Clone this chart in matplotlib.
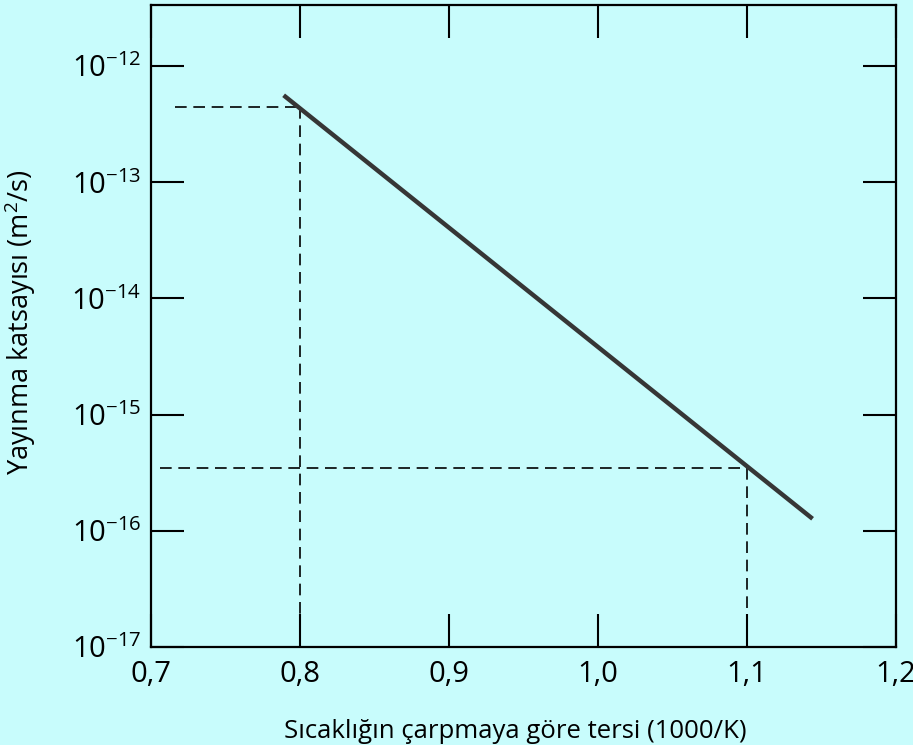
"""
Diffusion coefficient vs. inverse temperature (Arrhenius plot), textbook scan style.
"""
import matplotlib
matplotlib.use("Agg")
import matplotlib.pyplot as plt
from matplotlib.ticker import FixedLocator, FixedFormatter, NullLocator

plt.rcParams["font.family"] = ["Open Sans", "DejaVu Sans"]
plt.rcParams["mathtext.fontset"] = "custom"
plt.rcParams["mathtext.rm"] = "Open Sans"
plt.rcParams["mathtext.it"] = "Open Sans:italic"
plt.rcParams["mathtext.bf"] = "Open Sans:bold"

# --- Data ---
inv_T = [0.789, 1.144]            # 1000/K, ends of the line
D = [5.6e-13, 1.27e-16]           # m^2/s

ref_x = [0.8, 1.1]                # dashed read-off positions
ref_D = [4.4e-13, 3.5e-16]
ref_start = [0.716, 0.706]        # where the horizontal dashes begin

x_ticks = [0.7, 0.8, 0.9, 1.0, 1.1, 1.2]
x_labels = ["0,7", "0,8", "0,9", "1,0", "1,1", "1,2"]
y_ticks = [1e-17, 1e-16, 1e-15, 1e-14, 1e-13, 1e-12]
y_labels = [r"$10^{-17}$", r"$10^{-16}$", r"$10^{-15}$",
            r"$10^{-14}$", r"$10^{-13}$", r"$10^{-12}$"]

BG = "#c8fcfc"

fig = plt.figure(figsize=(9.13, 7.45), dpi=100, facecolor=BG)
ax = fig.add_axes([0.1654, 0.1315, 0.816, 0.8618], facecolor=BG)

ax.set_yscale("log")
ax.set_xlim(0.7, 1.2)
ax.set_ylim(1e-17, 3.35e-12)

# main line
ax.plot(inv_T, D, color="#363636", lw=3.2, solid_capstyle="butt", zorder=3)

# dashed guides
for x0, xr, dr in zip(ref_start, ref_x, ref_D):
    ax.plot([x0, xr], [dr, dr], color="black", lw=1.2, ls=(0, (7, 4)), zorder=2)
    ax.plot([xr, xr], [dr, 1e-17], color="black", lw=1.2, ls=(0, (7, 4)), zorder=2)

# ticks
ax.xaxis.set_major_locator(FixedLocator(x_ticks))
ax.xaxis.set_major_formatter(FixedFormatter(x_labels))
ax.yaxis.set_major_locator(FixedLocator(y_ticks))
ax.yaxis.set_major_formatter(FixedFormatter(y_labels))
ax.yaxis.set_minor_locator(NullLocator())
ax.tick_params(axis="both", which="major", direction="in", length=24, width=1.5,
               color="black", top=True, right=True)
ax.tick_params(axis="x", pad=9, labelsize=21)
ax.tick_params(axis="y", pad=7, labelsize=21)

for sp in ax.spines.values():
    sp.set_linewidth(1.6)
    sp.set_color("black")

fig.text(515 / 913, 1 - 738 / 745, "Sıcaklığın çarpmaya göre tersi (1000/K)",
         fontsize=18.5, ha="center", va="baseline")
fig.text(38 / 913, 1 - 322 / 745, "Yayınma katsayısı (m$^2$/s)",
         fontsize=19.5, rotation=90, ha="right", va="center")

plt.savefig("out.png", dpi=100, facecolor=BG)
